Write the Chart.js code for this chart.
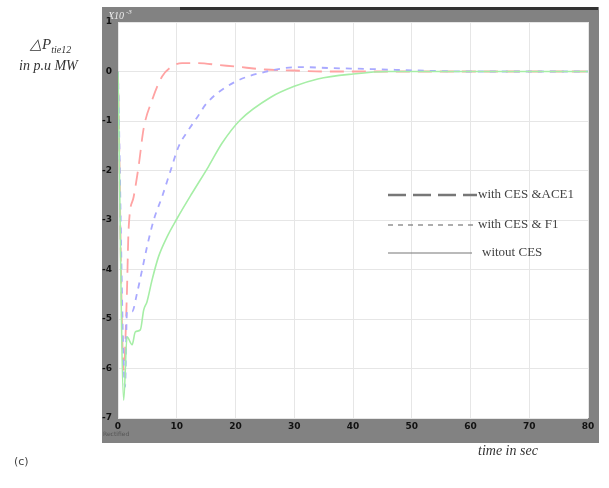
<html>
<head>
  <style>
    body { margin: 0; background: #fff; }
    #wrap { position: relative; width: 609px; height: 488px; }
    .lbl { position: absolute; font-family: "Liberation Serif", serif; font-style: italic; color: #333; }
  </style>
</head>
<body>
  <div id="wrap">
    <canvas id="tieChart" width="609" height="488"></canvas>
    <div class="lbl" style="left:30px; top:35px; font-size:15px;">&#9651;P<sub style="font-size:10px;">tie12</sub></div>
    <div class="lbl" style="left:19px; top:58px; font-size:14px;">in p.u MW</div>
    <div class="lbl" style="left:478px; top:443px; font-size:14px;">time in sec</div>
    <div style="position:absolute; left:14px; top:455px; font-family:'DejaVu Sans'; font-size:11px; color:#444;">(c)</div>
  </div>

  <script src="https://cdn.jsdelivr.net/npm/chart.js"></script>
  <script>
    // time (s) and deviation (x10^-3 p.u. MW)
    const tAce = [0, 0.97, 1.5, 1.8, 2.67, 3.5, 4.37, 5.8, 7.5, 8.9, 10.9, 13.7, 17.2, 20, 25, 30, 35, 40, 50, 60, 70, 80];
    const withCesAce = [0, -6.03, -4.55, -3.2, -2.53, -1.92, -1.15, -0.58, -0.1, 0.08, 0.17, 0.17, 0.13, 0.1, 0.04, 0.02, 0.0, 0.0, 0.0, 0.0, 0.0, 0.0];

    const tF1 = [0, 1.2, 1.53, 2.4, 3.24, 4.1, 4.94, 6.08, 7.5, 8.9, 10.3, 12.0, 13.4, 15.1, 19.6, 25.3, 31, 36, 43, 51, 60, 70, 80];
    const withCesF1 = [0, -6.37, -4.85, -4.85, -4.48, -4.01, -3.54, -3.0, -2.53, -2.02, -1.52, -1.18, -0.94, -0.64, -0.23, 0.0, 0.09, 0.07, 0.05, 0.02, 0.0, 0.0, 0.0];

    const tNoCes = [0, 0.97, 1.53, 2.4, 2.95, 3.8, 4.37, 4.94, 5.8, 6.9, 8.35, 10.05, 12.6, 15.4, 17.7, 20.8, 26, 30, 34, 40, 46, 55, 65, 80];
    const withoutCes = [0, -6.64, -5.36, -5.52, -5.26, -5.22, -4.82, -4.65, -4.21, -3.74, -3.34, -2.97, -2.46, -1.92, -1.45, -0.98, -0.52, -0.3, -0.15, -0.05, 0.0, 0.0, 0.0, 0.0];

    const xTicks = [0, 10, 20, 30, 40, 50, 60, 70, 80];
    const yTicks = [1, 0, -1, -2, -3, -4, -5, -6, -7];

    const legendItems = [
      { text: 'with CES &ACE1', dash: [18, 7] },
      { text: 'with CES & F1', dash: [5, 5] },
      { text: 'witout CES', dash: [] }
    ];

    const toPts = (xs, ys) => xs.map((x, i) => ({ x: x, y: ys[i] }));

    // grey scope frame behind the plot
    const framePlugin = {
      id: 'frame',
      beforeDraw(chart) {
        const { ctx, chartArea: a } = chart;
        ctx.save();
        ctx.fillStyle = '#828282';
        ctx.fillRect(a.left - 16, a.top - 15, a.right - a.left + 27, a.bottom - a.top + 40);
        ctx.fillStyle = '#333';
        ctx.fillRect(a.left + 62, a.top - 15, a.right - a.left - 52, 3);
        ctx.fillStyle = '#fff';
        ctx.fillRect(a.left, a.top, a.right - a.left, a.bottom - a.top);
        ctx.fillStyle = '#eee';
        ctx.font = 'italic 10px "Liberation Serif"';
        ctx.fillText('X10', a.left - 10, a.top - 3);
        ctx.font = 'italic 7px "Liberation Serif"';
        ctx.fillText('-3', a.left + 8, a.top - 8);
        ctx.fillStyle = '#555';
        ctx.font = '6px "DejaVu Sans"';
        ctx.fillText('Rectified', a.left - 15, a.bottom + 18);
        ctx.restore();
      },
      afterDraw(chart) {
        const { ctx } = chart;
        ctx.save();
        ctx.strokeStyle = '#777';
        ctx.fillStyle = '#444';
        ctx.font = '13px "Liberation Serif"';
        ctx.textBaseline = 'middle';
        const ys = [195, 225, 253];
        legendItems.forEach((it, i) => {
          ctx.setLineDash(it.dash);
          ctx.lineWidth = i === 0 ? 2.5 : 1.2;
          ctx.beginPath();
          ctx.moveTo(388, ys[i]);
          ctx.lineTo(i === 2 ? 472 : 477, ys[i]);
          ctx.stroke();
          ctx.fillText(it.text, i === 2 ? 482 : 478, ys[i]);
        });
        ctx.restore();
      }
    };

    new Chart(document.getElementById('tieChart'), {
      type: 'line',
      data: {
        datasets: [
          {
            label: 'witout CES',
            data: toPts(tNoCes, withoutCes),
            borderColor: '#a6eea6',
            borderWidth: 1.6,
            pointRadius: 0,
            cubicInterpolationMode: 'monotone',
            fill: false
          },
          {
            label: 'with CES & F1',
            data: toPts(tF1, withCesF1),
            borderColor: '#a9a9ff',
            borderWidth: 1.8,
            borderDash: [6, 6],
            pointRadius: 0,
            cubicInterpolationMode: 'monotone',
            fill: false
          },
          {
            label: 'with CES &ACE1',
            data: toPts(tAce, withCesAce),
            borderColor: '#ffa3a3',
            borderWidth: 1.8,
            borderDash: [14, 8],
            pointRadius: 0,
            cubicInterpolationMode: 'monotone',
            fill: false
          }
        ]
      },
      options: {
        responsive: false,
        animation: false,
        layout: { padding: { left: 0, right: 21, top: 22, bottom: 0 } },
        plugins: { legend: { display: false }, tooltip: { enabled: false } },
        scales: {
          x: {
            type: 'linear',
            min: 0,
            max: 80,
            afterBuildTicks: (s) => { s.ticks = xTicks.map(v => ({ value: v })); },
            afterFit: (s) => { s.height = 70; },
            grid: { color: '#e6e6e6', drawTicks: false },
            border: { display: false },
            ticks: { color: '#111', padding: 3, font: { size: 9, weight: 'bold', family: 'DejaVu Sans' } }
          },
          y: {
            min: -7,
            max: 1,
            afterBuildTicks: (s) => { s.ticks = yTicks.map(v => ({ value: v })); },
            afterFit: (s) => { s.width = 118; },
            grid: { color: '#e6e6e6', drawTicks: false },
            border: { display: false },
            ticks: { color: '#111', padding: 6, font: { size: 9, weight: 'bold', family: 'DejaVu Sans' } }
          }
        }
      },
      plugins: [framePlugin]
    });
  </script>
</body>
</html>
